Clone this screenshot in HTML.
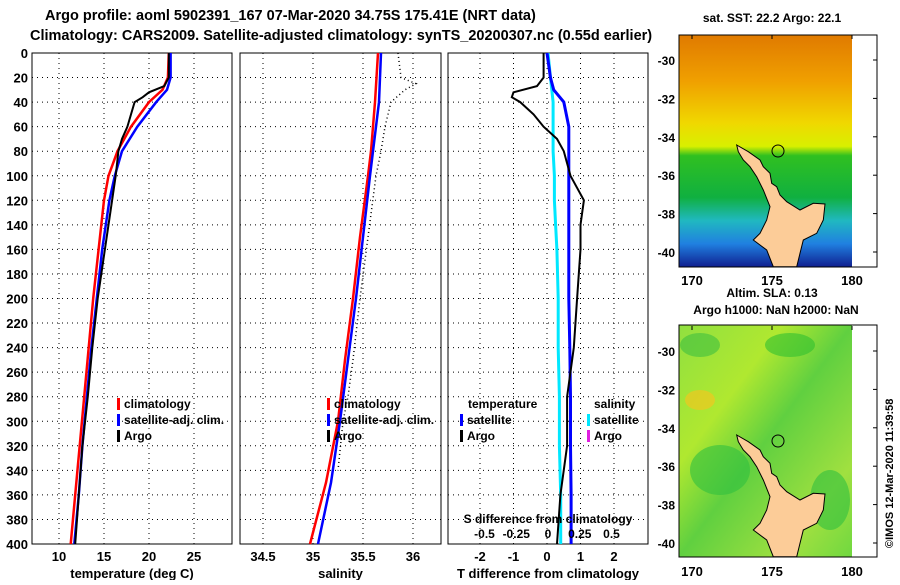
<!DOCTYPE html>
<html><head><meta charset="utf-8"><style>
body{margin:0;background:#fff;}
svg text{font-family:"Liberation Sans",sans-serif;font-weight:bold;}
</style></head><body>
<svg id="c" width="900" height="580" xmlns="http://www.w3.org/2000/svg">
<defs>
<linearGradient id="sst" x1="0" y1="0" x2="0" y2="1">
<stop offset="0" stop-color="#e07a00"/><stop offset="0.2" stop-color="#f0a000"/><stop offset="0.38" stop-color="#f0d800"/><stop offset="0.48" stop-color="#d8f000"/><stop offset="0.52" stop-color="#30c020"/><stop offset="0.7" stop-color="#10b040"/><stop offset="0.8" stop-color="#20b8c0"/><stop offset="0.9" stop-color="#2080e0"/><stop offset="1" stop-color="#102090"/>
</linearGradient>
<linearGradient id="sla" x1="0" y1="0" x2="1" y2="1">
<stop offset="0" stop-color="#90e040"/><stop offset="0.3" stop-color="#b0e830"/><stop offset="0.5" stop-color="#60d040"/><stop offset="0.8" stop-color="#a0e040"/><stop offset="1" stop-color="#70d840"/>
</linearGradient>
</defs>
<text x="45" y="20" font-size="14.5">Argo profile: aoml 5902391_167 07-Mar-2020 34.75S 175.41E (NRT data)</text>
<text x="30" y="40" font-size="14.5">Climatology: CARS2009. Satellite-adjusted climatology: synTS_20200307.nc (0.55d earlier)</text>
<g id="plots"></g>
<g id="maps">
<text x="772" y="22" font-size="12" text-anchor="middle">sat. SST: 22.2 Argo: 22.1</text>
<rect x="679" y="35" width="173" height="232" fill="url(#sst)"/>
<polygon id="land1" fill="#fccc98" stroke="#000" stroke-width="1"/>
<circle cx="778" cy="151" r="6" fill="none" stroke="#000"/>
<rect x="679" y="35" width="198" height="232" fill="none" stroke="#000"/>
<text x="772" y="297" font-size="12" text-anchor="middle">Altim. SLA: 0.13</text>
<text x="776" y="314" font-size="12" text-anchor="middle">Argo h1000: NaN h2000: NaN</text>
<rect x="679" y="325" width="173" height="232" fill="url(#sla)"/>
<ellipse cx="700" cy="345" rx="20" ry="12" fill="#40c040" opacity="0.6"/>
<ellipse cx="790" cy="345" rx="25" ry="12" fill="#30c030" opacity="0.6"/>
<ellipse cx="700" cy="400" rx="15" ry="10" fill="#f0c820" opacity="0.7"/>
<ellipse cx="720" cy="470" rx="30" ry="25" fill="#30c040" opacity="0.6"/>
<ellipse cx="830" cy="500" rx="20" ry="30" fill="#30c040" opacity="0.6"/>
<polygon id="land2" fill="#fccc98" stroke="#000" stroke-width="1"/>
<circle cx="778" cy="441" r="6" fill="none" stroke="#000"/>
<rect x="679" y="325" width="198" height="232" fill="none" stroke="#000"/>
<text transform="translate(893,548) rotate(-90)" font-size="11" font-weight="normal">©IMOS 12-Mar-2020 11:39:58</text>
</g>
</svg>
<script>
const NS='http://www.w3.org/2000/svg';
// ---- data ----
const tDepth=[0,20,30,40,60,80,100,120,140,160,200,240,280,320,360,400];
const tClim=[22.2,22.1,21.5,20.0,18.0,16.5,15.5,15.0,14.7,14.4,13.8,13.3,12.8,12.3,11.8,11.3];
const tSat=[22.4,22.4,22.0,20.8,18.7,17.0,16.2,15.6,15.2,14.8,14.2,13.6,13.1,12.6,12.2,11.7];
const argoDepth=[0,20,27,32,36,40,50,60,70,80,100,120,140,160,200,240,280,320,360,400];
const tArgo=[22.2,22.2,21.7,20.0,19.3,18.4,18.0,17.6,17.0,16.6,16.3,15.9,15.5,15.1,14.3,13.7,13.2,12.6,12.2,11.8];
const sDepth=[0,40,80,100,150,200,250,300,350,400];
const sClim=[35.65,35.62,35.58,35.55,35.47,35.40,35.32,35.25,35.13,34.97];
const sSat=[35.68,35.66,35.60,35.57,35.50,35.43,35.35,35.27,35.18,35.05];
const sArgoDepth=[0,20,25,30,40,60,80,100,150,200,250,280,300,340];
const sArgo=[35.85,35.88,36.03,35.92,35.78,35.72,35.68,35.63,35.55,35.47,35.4,35.35,35.3,35.25];
const dTArgo=[-0.1,-0.1,-0.3,-1.0,-1.05,-0.8,-0.4,-0.1,0.3,0.5,0.7,1.1,1.0,1.0,0.9,0.8,0.6,0.6,0.4,0.3];
const dTSat=[0.0,0.1,0.2,0.5,0.65,0.65,0.65,0.65,0.65,0.65,0.65,0.68,0.7,0.7,0.72,0.72];
const dSSat=[0.0,0.02,0.03,0.04,0.04,0.04,0.05,0.05,0.06,0.07,0.08,0.08,0.09,0.09,0.1,0.1];
const yTicks=[0,20,40,60,80,100,120,140,160,180,200,220,240,260,280,300,320,340,360,380,400];
const tTicks=[10,15,20,25], sTicks=[34.5,35,35.5,36], dTicks=[-2,-1,0,1,2], dsTicks=[-0.5,-0.25,0,0.25,0.5];
// ---- scales ----
const Y=d=>53+d*(491/400);
const xT=v=>59+(v-10)*9;
const xS=v=>313+(v-35)*100;
const xD=v=>547+v*33.5;
const xDS=v=>548+v*127;
const g=document.getElementById('plots');
function el(t,a,p){const e=document.createElementNS(NS,t);for(const k in a)e.setAttribute(k,a[k]);(p||g).appendChild(e);return e;}
function txt(x,y,s,o,p){const e=el('text',Object.assign({x:x,y:y,'font-size':13},o||{}),p);e.textContent=s;return e;}
const panels=[[32,232,xT,tTicks,'temperature (deg C)','temperature-panel'],[240,441,xS,sTicks,'salinity','salinity-panel'],[448,648,xD,dTicks,'T difference from climatology','difference-panel']];
panels.forEach(p=>{
  const [x0,x1,sx,ticks,title,name]=p;
  yTicks.forEach(d=>{if(d>0&&d<400){const l=el('line',{x1:x0,x2:x1,y1:Y(d),y2:Y(d),stroke:'#000','stroke-dasharray':'1,4'});}});
  ticks.forEach(v=>{const l=el('line',{x1:sx(v),x2:sx(v),y1:Y(0),y2:Y(400),stroke:'#000','stroke-dasharray':'1,4'});
    const t=txt(sx(v),561,String(v),{'text-anchor':'middle'});});
  const r=el('rect',{x:x0,y:Y(0),width:x1-x0,height:Y(400)-Y(0),fill:'none',stroke:'#000'});
  
  const t=txt((x0+x1)/2,578,title,{'text-anchor':'middle'});
});
yTicks.forEach(d=>{const t=txt(28,Y(d)+5,String(d),{'text-anchor':'end'});});
function line(xs,ds,sx,col,w,dash,name){
  const pts=xs.map((v,i)=>sx(v).toFixed(1)+','+Y(ds[i]).toFixed(1)).join(' ');
  const o={points:pts,fill:'none',stroke:col,'stroke-width':w};if(dash)o['stroke-dasharray']=dash;
  const l=el('polyline',o);
}
line(tClim,tDepth,xT,'#f00',2.5,null,'temp-climatology-line');
line(tSat,tDepth,xT,'#00f',2.5,null,'temp-satellite-line');
line(tArgo,argoDepth,xT,'#000',2,null,'temp-argo-line');
line(sClim,sDepth,xS,'#f00',2.5,null,'sal-climatology-line');
line(sSat,sDepth,xS,'#00f',2.5,null,'sal-satellite-line');
line(sArgo,sArgoDepth,xS,'#000',1.5,'1,3','sal-argo-line');
line(dSSat,tDepth,xDS,'#00e8ff',3,null,'sdiff-satellite-line');
line(dTSat,tDepth,xD,'#00f',3,null,'tdiff-satellite-line');
line(dTArgo,argoDepth,xD,'#000',2,null,'tdiff-argo-line');
function leg(x,y,col,s,name){const r=el('rect',{x:x,y:y-10,width:3,height:12,fill:col});
 const t=txt(x+7,y,s,{'font-size':12});}
leg(117,408,'#f00','climatology','legend-climatology');leg(117,424,'#00f','satellite-adj. clim.','legend-satellite');leg(117,440,'#000','Argo','legend-argo');
leg(327,408,'#f00','climatology','legend2-climatology');leg(327,424,'#00f','satellite-adj. clim.','legend2-satellite');leg(327,440,'#000','Argo','legend2-argo');
let t=txt(468,408,'temperature',{'font-size':12});
t=txt(594,408,'salinity',{'font-size':12});
leg(460,424,'#00f','satellite','legend-t-satellite');leg(460,440,'#000','Argo','legend-t-argo');
leg(587,424,'#00e8ff','satellite','legend-s-satellite');leg(587,440,'#e020e0','Argo','legend-s-argo');
t=txt(548,523,'S difference from climatology',{'font-size':12,'text-anchor':'middle'});
dsTicks.forEach(v=>{const e=txt(xDS(v),538,String(v),{'font-size':12,'text-anchor':'middle'});});
// maps
const landPx=[[230,375],[265,395],[300,420],[310,440],[330,460],[335,490],[350,500],[360,525],[380,545],[420,570],[460,550],[495,552],[490,600],[470,640],[430,660],[420,700],[410,740],[340,740],[320,690],[280,660],[300,640],[320,600],[330,560],[310,510],[290,470],[270,440],[250,420],[235,395]];
const p1=landPx.map(p=>(660+p[0]/3).toFixed(1)+','+(20+p[1]/3).toFixed(1)).join(' ');
const p2=landPx.map(p=>(660+p[0]/3).toFixed(1)+','+(310+p[1]/3).toFixed(1)).join(' ');
document.getElementById('land1').setAttribute('points',p1);
document.getElementById('land2').setAttribute('points',p2);
const mg=document.getElementById('maps');
const latT=[-30,-32,-34,-36,-38,-40], lonT=[170,175,180];
[[0,'sst'],[291,'sla']].forEach(m=>{
  latT.forEach(v=>{const y=60+(-30-v)*19.2+m[0];const e=txt(675,y+5,String(v),{'text-anchor':'end','font-size':12},mg);
    el('line',{x1:873,x2:877,y1:y,y2:y,stroke:'#000'},mg);});
  lonT.forEach(v=>{const x=692+(v-170)*16;const e=txt(x,m[0]+285,String(v),{'text-anchor':'middle','font-size':13},mg);
    el('line',{x1:x,x2:x,y1:m[0]+35,y2:m[0]+39,stroke:'#000'},mg);});
});
</script>
</body></html>
